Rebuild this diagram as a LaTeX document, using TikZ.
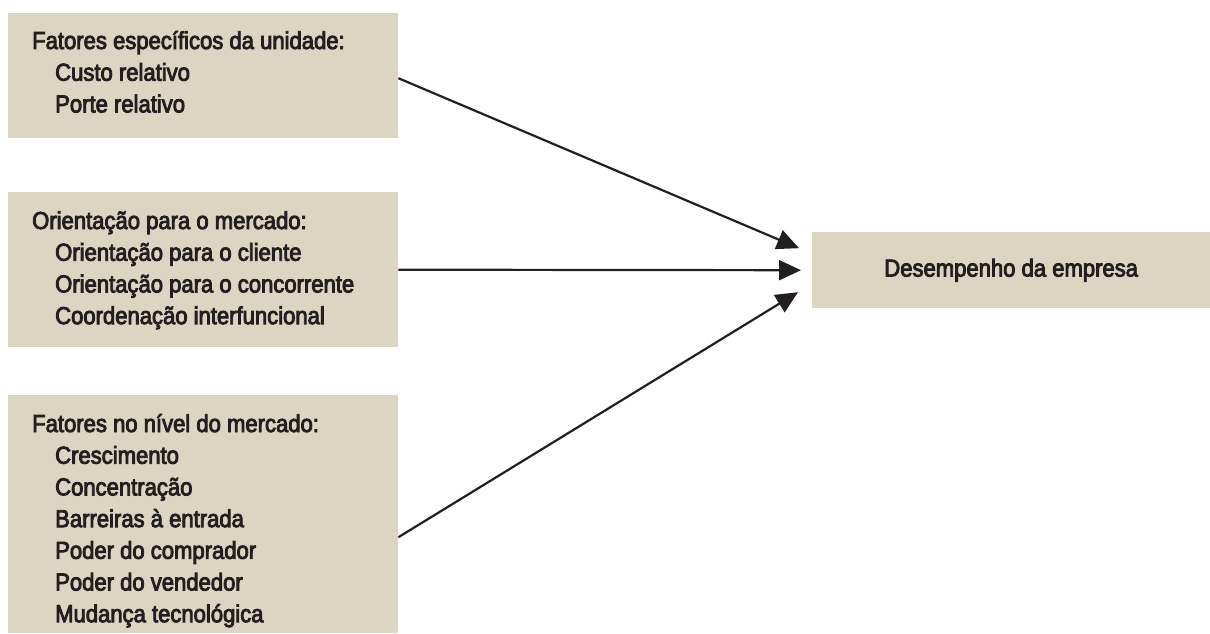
\documentclass[tikz,border=0pt]{standalone}
\usepackage{fontspec}
\setmainfont{Liberation Sans}[FakeStretch=0.9,FakeBold=3.5]
\usetikzlibrary{arrows.meta,calc}
\definecolor{boxfill}{HTML}{DBD5C2}
\definecolor{ink}{HTML}{231F20}
\begin{document}
\begin{tikzpicture}[x=1pt,y=-1pt,
  panel/.style={fill=boxfill,draw=none,inner sep=0pt,anchor=north west},
  label/.style={anchor=base west,inner sep=0pt,align=left,text=ink,
    font=\fontsize{24.5}{31.7}\selectfont},
  link/.style={draw=ink,line width=2.2pt,-{Triangle[length=22pt,width=20pt]}}]
\useasboundingbox (0,0) rectangle (1210,633);
\node[panel,minimum width=390pt,minimum height=125pt] (A) at (8,13) {};
\node[panel,minimum width=390pt,minimum height=155pt] (B) at (8,192) {};
\node[panel,minimum width=390pt,minimum height=238pt] (C) at (8,395) {};
\node[panel,minimum width=398pt,minimum height=76pt] (D) at (812,232) {};
\node[label] (ta) at (32,112.4) {Fatores específicos da unidade:\\
  \hspace*{23pt}Custo relativo\\
  \hspace*{23pt}Porte relativo};
\node[label] (tb) at (32,324.1) {Orientação para o mercado:\\
  \hspace*{23pt}Orientação para o cliente\\
  \hspace*{23pt}Orientação para o concorrente\\
  \hspace*{23pt}Coordenação interfuncional};
\node[label] (tc) at (32,622.2) {Fatores no nível do mercado:\\
  \hspace*{23pt}Crescimento\\
  \hspace*{23pt}Concentração\\
  \hspace*{23pt}Barreiras à entrada\\
  \hspace*{23pt}Poder do comprador\\
  \hspace*{23pt}Poder do vendedor\\
  \hspace*{23pt}Mudança tecnológica};
\node[anchor=center,text=ink,inner sep=0pt,font=\fontsize{24.5}{28}\selectfont] (td) at (D.center) {Desempenho da empresa};
\coordinate (sa) at ($(A.east)+(0,2.5)$);
\coordinate (sc) at ($(C.east)+(0,23)$);
\coordinate (ea) at ($(D.west)+(-13,-22)$);
\coordinate (eb) at ($(D.west)+(-11,0)$);
\coordinate (ec) at ($(D.west)+(-14,22)$);
\draw[link] (sa) -- (ea);
\draw[link] (B.east) -- (eb);
\draw[link] (sc) -- (ec);
\end{tikzpicture}
\end{document}
